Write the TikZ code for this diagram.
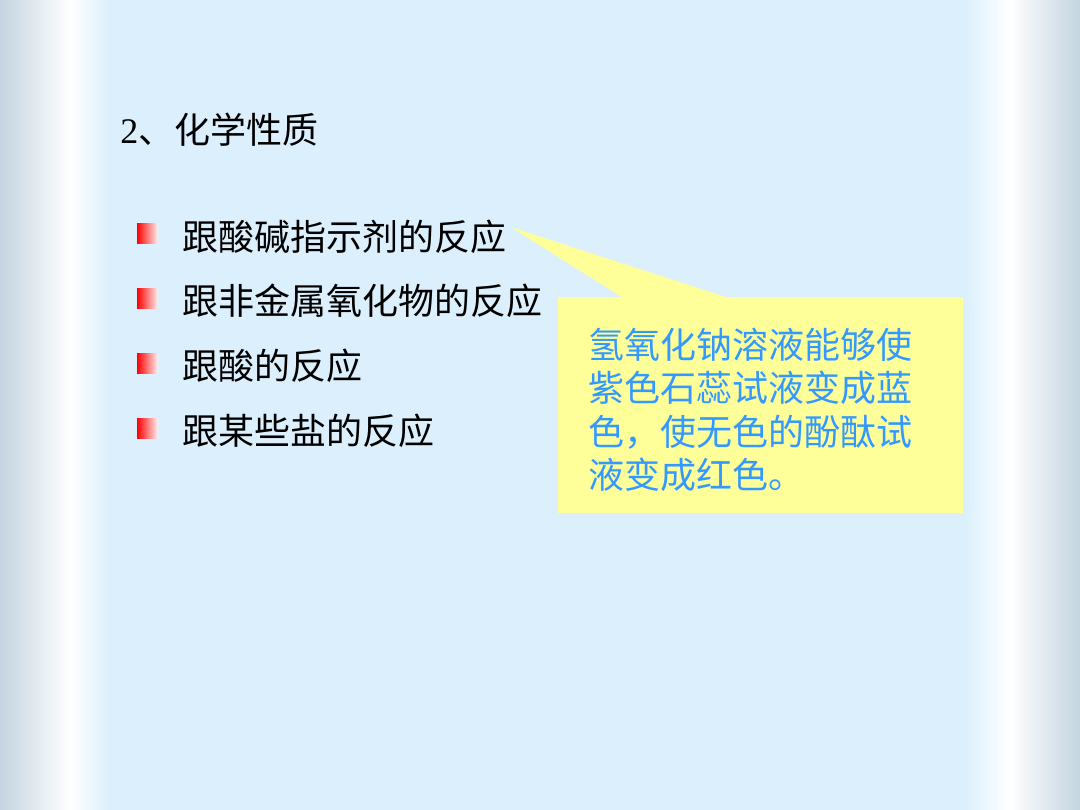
\documentclass[tikz,border=0pt]{standalone}
\usepackage{fontspec}
\setmainfont{Liberation Serif}
\newfontfamily\cjk{Noto Sans CJK SC}
\usetikzlibrary{calc,positioning}

\definecolor{slidebg}{RGB}{219,240,252}
\definecolor{sidegrey}{RGB}{196,212,224}
\definecolor{noteyellow}{RGB}{255,255,153}
\definecolor{noteblue}{RGB}{51,153,255}

\tikzset{
  itemtext/.style={anchor=west, inner sep=0pt, font=\fontsize{24}{29}\selectfont\cjk},
  bulletsq/.style={rectangle, minimum width=21\unitlength, minimum height=20\unitlength, inner sep=0pt, left color=red, middle color=red!85, right color=red!5},
}

\begin{document}
\begin{tikzpicture}[x=0.6667pt,y=-0.6667pt]
  \setlength{\unitlength}{0.6667pt}
  % background and side strips
  \fill[slidebg] (0,0) rectangle (1080,810);
  \shade[left color=sidegrey, right color=white] (0,0) rectangle (70,810);
  \shade[left color=white, right color=slidebg] (70,0) rectangle (110,810);
  \shade[left color=slidebg, right color=white] (965,0) rectangle (1010,810);
  \shade[left color=white, right color=sidegrey] (1010,0) rectangle (1080,810);
  \useasboundingbox (0,0) rectangle (1080,810);

  % title
  \node(title) [anchor=west, inner sep=0pt, font=\fontsize{24}{29}\selectfont] at (120,130) {2{\cjk 、化学性质}};

  % items
  \node(sq1) [bulletsq] at (147.5,233) {};
  \node(item1) [itemtext] at (182,237) {跟酸碱指示剂的反应};
  \node(sq2) [bulletsq] at (147.5,298) {};
  \node(item2) [itemtext] at (182,301) {跟非金属氧化物的反应};
  \node(sq3) [bulletsq] at (147.5,363) {};
  \node(item3) [itemtext] at (182,366) {跟酸的反应};
  \node(sq4) [bulletsq] at (147.5,428) {};
  \node(item4) [itemtext] at (182,431) {跟某些盐的反应};

  % callout
  \node(note) [rectangle, fill=noteyellow, minimum width=405\unitlength, minimum height=216\unitlength, inner sep=0pt] at (760.5,405) {};
  \coordinate(tip) at ($(item1.east)+(4,-10)$);
  \fill[noteyellow] (tip) -- ($(note.north west)+(65,1)$) -- ($(note.north west)+(170,1)$) -- cycle;
  \node(notetext) [anchor=west, inner sep=0pt, align=left, text=noteblue, font=\fontsize{24}{29}\selectfont\cjk] at (588,410)
    {氢氧化钠溶液能够使\\紫色石蕊试液变成蓝\\色，使无色的酚酞试\\液变成红色。};
\end{tikzpicture}
\end{document}
